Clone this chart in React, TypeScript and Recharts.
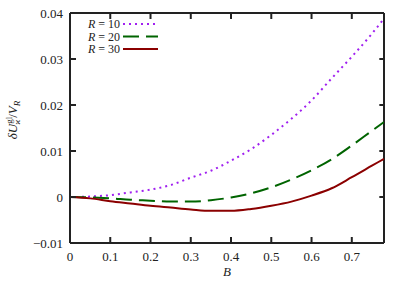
import { LineChart, Line, XAxis, YAxis, ReferenceLine } from 'recharts';

const bValues = [0, 0.05, 0.1, 0.15, 0.2, 0.25, 0.3, 0.35, 0.4, 0.45, 0.5, 0.55, 0.6, 0.65, 0.7, 0.75, 0.78];
const r10 = [0, 0.0001, 0.0004, 0.001, 0.0016, 0.0026, 0.0042, 0.0057, 0.0079, 0.0104, 0.0135, 0.017, 0.021, 0.0258, 0.0305, 0.0355, 0.0388];
const r20 = [0, -0.0001, -0.0003, -0.0006, -0.0008, -0.001, -0.001, -0.0007, -0.0001, 0.0008, 0.0021, 0.0038, 0.0058, 0.0082, 0.0112, 0.0144, 0.0163];
const r30 = [0, -0.0003, -0.0009, -0.0014, -0.0019, -0.0023, -0.0027, -0.003, -0.003, -0.0026, -0.0019, -0.001, 0.0003, 0.0019, 0.0043, 0.0068, 0.0083];

const xTicks = [0, 0.1, 0.2, 0.3, 0.4, 0.5, 0.6, 0.7];
const yTicks = [-0.01, 0, 0.01, 0.02, 0.03, 0.04];
const legendNames = ['R = 10', 'R = 20', 'R = 30'];

const X_MAX = 0.78;
const Y_MIN = -0.01;
const Y_MAX = 0.04;

const data = bValues.map((b, i) => ({ b, r10: r10[i], r20: r20[i], r30: r30[i] }));

const series = [
  { key: 'r10', name: legendNames[0], color: '#a020f0', dash: '2 4', width: 2 },
  { key: 'r20', name: legendNames[1], color: '#006400', dash: '16 7', width: 2 },
  { key: 'r30', name: legendNames[2], color: '#8b0000', dash: undefined, width: 2 },
];

const FONT = '"Liberation Serif", "DejaVu Serif", serif';
const INK = '#222';
const TICK_LEN = 6;
// tick length on the top/right edges, in data units (~6px)
const TOP_TICK = 0.0013;
const RIGHT_TICK = 0.0116;

const fmt = (v: number) => (v < 0 ? '\u2212' + String(-v) : String(v));

// inward ticks, gnuplot style
const renderBottomTick = ({ x, y, payload }: any) => (
  <g key={`b${payload.value}`}>
    <line x1={x} x2={x} y1={y} y2={y - TICK_LEN} stroke={INK} strokeWidth={2} />
    <text x={x} y={y + 18} textAnchor="middle" fontFamily={FONT} fontSize={13} fill={INK}>{fmt(payload.value)}</text>
  </g>
);

const renderLeftTick = ({ x, y, payload }: any) => (
  <g key={`l${payload.value}`}>
    <line x1={x} x2={x + TICK_LEN} y1={y} y2={y} stroke={INK} strokeWidth={2} />
    <text x={x - 7} y={y + 4.5} textAnchor="end" fontFamily={FONT} fontSize={13} fill={INK}>{fmt(payload.value)}</text>
  </g>
);

const YLabel = ({ viewBox }: any) => {
  const cx = viewBox.x + 7;
  const cy = viewBox.y + viewBox.height / 2 - 8;
  return (
    <text transform={`translate(${cx},${cy}) rotate(-90)`} textAnchor="middle" fontFamily={FONT} fontSize={13} fill={INK}>
      <tspan fontStyle="italic">δU</tspan>
      <tspan fontSize={9} dy={-5}>gl</tspan>
      <tspan fontSize={9} fontStyle="italic" dx={-8} dy={8}>ϰ</tspan>
      <tspan dx={2} dy={-3}>/</tspan>
      <tspan fontStyle="italic">V</tspan>
      <tspan fontSize={9} fontStyle="italic" dy={3}>R</tspan>
    </text>
  );
};

const LegendBox = () => (
  <svg width={100} height={44} style={{ display: 'block' }}>
    {series.map((s, i) => {
      const cy = 7 + i * 12.5;
      return (
        <g key={s.key}>
          <text x={49} y={cy + 4} textAnchor="end" fontFamily={FONT} fontSize={12} fill={INK}>
            <tspan fontStyle="italic">R</tspan>
            <tspan>{s.name.slice(1)}</tspan>
          </text>
          <line x1={52} x2={87} y1={cy} y2={cy} stroke={s.color} strokeWidth={s.width} strokeDasharray={s.dash} />
        </g>
      );
    })}
  </svg>
);

export default function App() {
  return (
    <div style={{ position: 'absolute', left: 0, top: 0, width: 407, height: 285, background: '#fff' }}>
      <LineChart width={407} height={285} data={data} margin={{ top: 13, right: 23, bottom: 12, left: 10 }}>
        <XAxis
          xAxisId="bottom" orientation="bottom" dataKey="b" type="number" domain={[0, X_MAX]} ticks={xTicks} allowDataOverflow
          height={30} tickSize={0} tickMargin={0} tickLine={false} stroke={INK}
          axisLine={{ stroke: INK, strokeWidth: 2 }} tick={renderBottomTick}
          label={{ value: 'B', position: 'insideBottom', offset: 0, dy: 3, fontStyle: 'italic', fontFamily: FONT, fontSize: 13, fill: INK }}
        />
        <YAxis
          yAxisId="left" orientation="left" type="number" domain={[Y_MIN, Y_MAX]} ticks={yTicks} allowDataOverflow
          width={60} tickSize={0} tickMargin={0} tickLine={false} stroke={INK}
          axisLine={{ stroke: INK, strokeWidth: 2 }} tick={renderLeftTick}
          label={<YLabel />}
        />
        {/* top and right edges of the frame, with their inward ticks */}
        <ReferenceLine xAxisId="bottom" yAxisId="left" y={Y_MAX} stroke={INK} strokeWidth={2} />
        <ReferenceLine xAxisId="bottom" yAxisId="left" x={X_MAX} stroke={INK} strokeWidth={2} />
        {xTicks.map((t) => (
          <ReferenceLine
            key={`tt${t}`} xAxisId="bottom" yAxisId="left"
            segment={[{ x: t, y: Y_MAX }, { x: t, y: Y_MAX - TOP_TICK }]} stroke={INK} strokeWidth={2}
          />
        ))}
        {yTicks.map((t) => (
          <ReferenceLine
            key={`rt${t}`} xAxisId="bottom" yAxisId="left"
            segment={[{ x: X_MAX, y: t }, { x: X_MAX - RIGHT_TICK, y: t }]} stroke={INK} strokeWidth={2}
          />
        ))}
        {series.map((s) => (
          <Line
            key={s.key} xAxisId="bottom" yAxisId="left" type="monotone" dataKey={s.key} name={s.name} stroke={s.color}
            strokeWidth={s.width} strokeDasharray={s.dash} dot={false} isAnimationActive={false}
          />
        ))}
      </LineChart>
      <div style={{ position: 'absolute', top: 17, left: 71 }}>
        <LegendBox />
      </div>
    </div>
  );
}
